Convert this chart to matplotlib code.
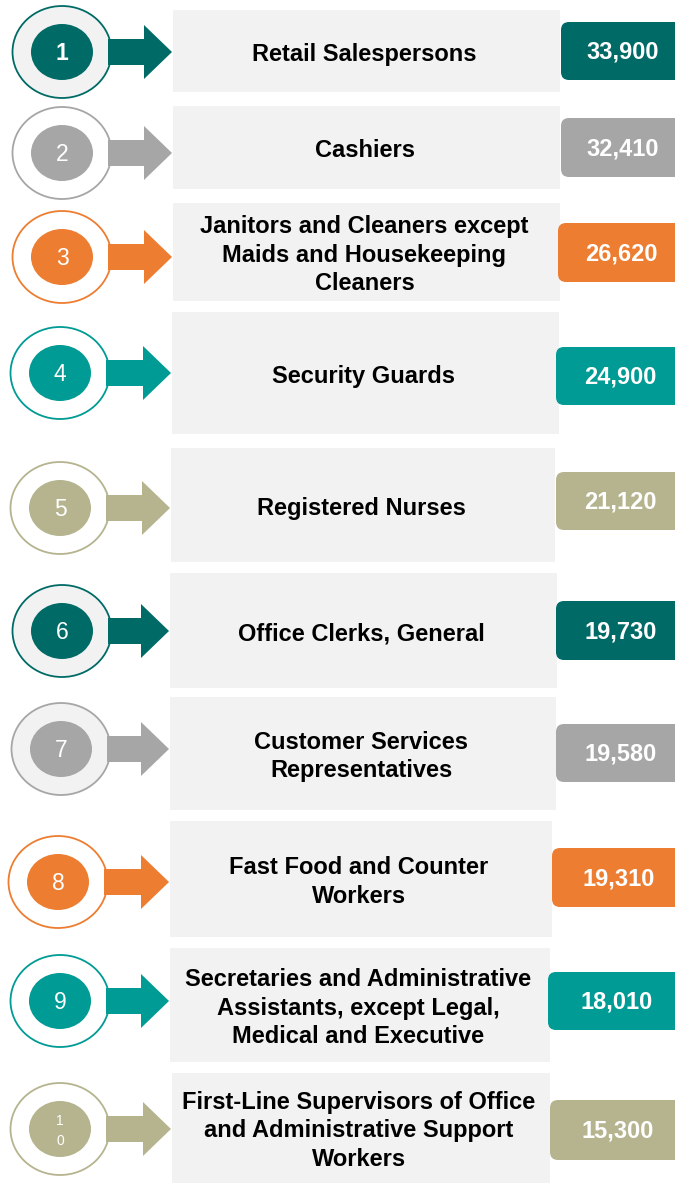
import matplotlib
matplotlib.use("Agg")
import matplotlib.pyplot as plt
from matplotlib.patches import Ellipse, Polygon, Rectangle, FancyBboxPatch

# --- data -------------------------------------------------------------
RANKS = ["1", "2", "3", "4", "5", "6", "7", "8", "9", "1\n0"]
OCCUPATIONS = [
    "Retail Salespersons",
    "Cashiers",
    "Janitors and Cleaners except\nMaids and Housekeeping\nCleaners",
    "Security Guards",
    "Registered Nurses",
    "Office Clerks, General",
    "Customer Services\nRepresentatives",
    "Fast Food and Counter\nWorkers",
    "Secretaries and Administrative\nAssistants, except Legal,\nMedical and Executive",
    "First-Line Supervisors of Office\nand Administrative Support\nWorkers",
]
JOBS = [33900, 32410, 26620, 24900, 21120, 19730, 19580, 19310, 18010, 15300]

DARK_TEAL = "#006B66"
GREY = "#A6A6A6"
ORANGE = "#ED7D31"
TEAL = "#009B94"
KHAKI = "#B5B48F"
ROW_COLOURS = [DARK_TEAL, GREY, ORANGE, TEAL, KHAKI,
               DARK_TEAL, GREY, ORANGE, TEAL, KHAKI]

# --- layout (pixels, y down) ------------------------------------------
BOX_TOP = [10, 106, 203, 312, 448, 573, 697, 821, 948, 1073]
BOX_BOTTOM = [92, 189, 301, 434, 562, 688, 810, 937, 1062, 1183]
BOX_LEFT = [173, 173, 173, 172, 171, 170, 170, 170, 170, 172]
BOX_RIGHT = [560, 560, 560, 559, 555, 557, 556, 552, 550, 550]
VAL_LEFT = [561, 561, 558, 556, 556, 556, 556, 552, 548, 550]
VAL_TOP = [22, 118, 223, 347, 472, 601, 724, 848, 972, 1100]
VAL_BOTTOM = [80, 177, 282, 405, 530, 660, 782, 907, 1030, 1160]
CIRCLE_X = [62, 62, 62, 60, 60, 62, 61, 58, 60, 60]
CIRCLE_Y = [52, 153, 257, 373, 508, 631, 749, 882, 1001, 1129]
CIRCLE_FILL = ["#F2F2F2", "white", "white", "white", "white",
               "#F2F2F2", "#F2F2F2", "white", "white", "white"]

W, H = 675, 1183
FONT = ["Liberation Sans", "DejaVu Sans"]

fig = plt.figure(figsize=(W / 100, H / 100), dpi=100)
ax = fig.add_axes([0, 0, 1, 1])
ax.set_xlim(0, W)
ax.set_ylim(H, 0)
ax.axis("off")

for i in range(len(JOBS)):
    col = ROW_COLOURS[i]
    cx, cy = CIRCLE_X[i], CIRCLE_Y[i]

    # label box
    ax.add_patch(Rectangle((BOX_LEFT[i], BOX_TOP[i]),
                           BOX_RIGHT[i] - BOX_LEFT[i],
                           BOX_BOTTOM[i] - BOX_TOP[i],
                           facecolor="#F2F2F2", edgecolor="none", zorder=1))
    ax.text((BOX_LEFT[i] + BOX_RIGHT[i]) / 2 - 2,
            (BOX_TOP[i] + BOX_BOTTOM[i]) / 2 + 3,
            OCCUPATIONS[i], ha="center", va="center", fontsize=17,
            fontweight="bold", family=FONT, linespacing=1.28, zorder=5)

    # value box (runs off the right edge)
    ax.add_patch(FancyBboxPatch((VAL_LEFT[i], VAL_TOP[i]),
                                W + 20 - VAL_LEFT[i],
                                VAL_BOTTOM[i] - VAL_TOP[i],
                                boxstyle="round,pad=0,rounding_size=8",
                                facecolor=col, edgecolor="none", zorder=2))
    ax.text((VAL_LEFT[i] + W + 10) / 2, (VAL_TOP[i] + VAL_BOTTOM[i]) / 2 + 1,
            f"{JOBS[i]:,}", ha="center", va="center", fontsize=17,
            fontweight="bold", color="white", family=FONT, zorder=5)

    # outer ring, arrow, inner disc
    ax.add_patch(Ellipse((cx, cy), 99, 92, facecolor=CIRCLE_FILL[i],
                         edgecolor=col, linewidth=1.3, zorder=2))
    tip = BOX_LEFT[i] - 1
    neck = tip - 28
    start = cx + 46
    ax.add_patch(Polygon([(start, cy - 13), (neck, cy - 13), (neck, cy - 27),
                          (tip, cy), (neck, cy + 27), (neck, cy + 13),
                          (start, cy + 13)],
                         closed=True, facecolor=col, edgecolor="none",
                         zorder=3))
    ax.add_patch(Ellipse((cx, cy), 62, 56, facecolor=col, edgecolor="none",
                         zorder=4))
    if "\n" in RANKS[i]:
        ax.text(cx, cy + 2, RANKS[i], ha="center", va="center", fontsize=10,
                color="white", family=FONT, linespacing=1.5, zorder=5)
    else:
        ax.text(cx, cy + 1, RANKS[i], ha="center", va="center", fontsize=16.5,
                color="white", family=FONT,
                fontweight="bold" if i == 0 else "normal", zorder=5)

fig.savefig("out.png", dpi=100)
